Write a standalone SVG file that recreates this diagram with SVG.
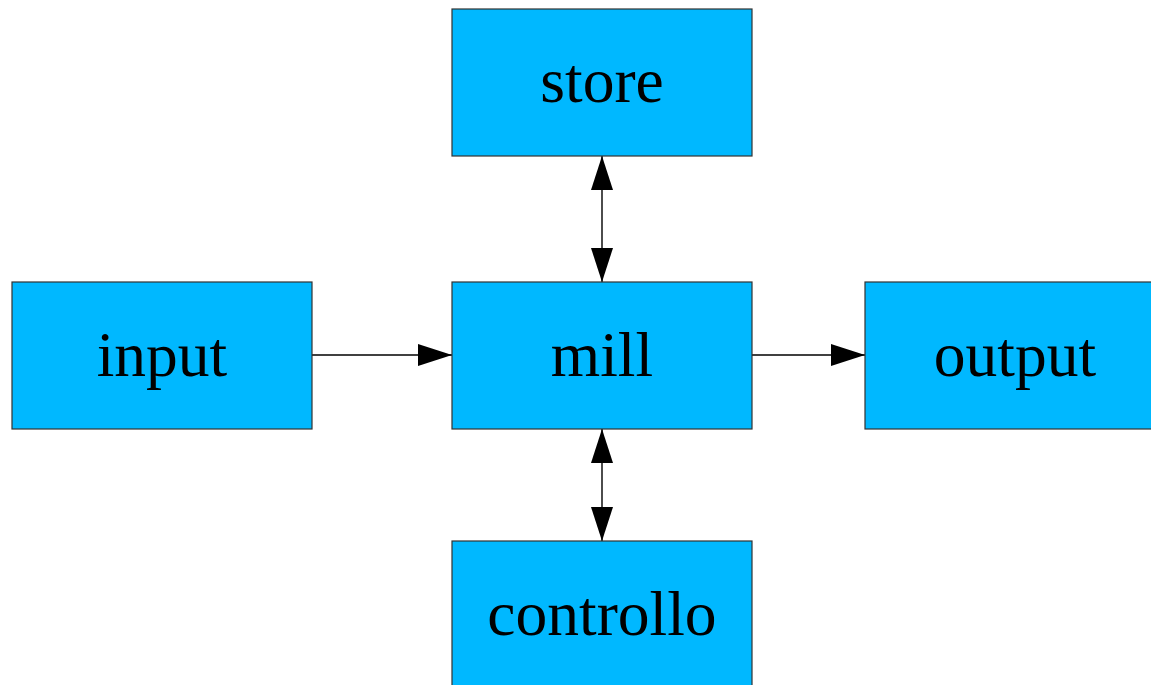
<svg xmlns="http://www.w3.org/2000/svg" width="1151" height="685" viewBox="0 0 1151 685">
  <style>
    .box { fill: #00b8ff; stroke: #333; stroke-width: 1.2; }
    .label { font-family: "Liberation Serif", "Times New Roman", serif; font-size: 63.5px; fill: #000; text-anchor: middle; }
    .link { stroke: #000; stroke-width: 1.4; fill: none; }
  </style>
  <defs>
    <marker id="head" viewBox="0 0 34 22" refX="34" refY="11" markerWidth="34" markerHeight="22" markerUnits="userSpaceOnUse" orient="auto-start-reverse">
      <path d="M0,0 L34,11 L0,22 Z" fill="#000"/>
    </marker>
  </defs>
  <rect width="1151" height="685" fill="#fff"/>

  <g id="connectors">
    <line class="link" x1="312" y1="355" x2="452" y2="355" marker-end="url(#head)"/>
    <line class="link" x1="752" y1="355" x2="865" y2="355" marker-end="url(#head)"/>
    <line class="link" x1="602" y1="156" x2="602" y2="282" marker-start="url(#head)" marker-end="url(#head)"/>
    <line class="link" x1="602" y1="429" x2="602" y2="541" marker-start="url(#head)" marker-end="url(#head)"/>
  </g>

  <g id="store">
    <rect class="box" x="452" y="9" width="300" height="147"/>
    <text class="label" x="602" y="102">store</text>
  </g>
  <g id="input">
    <rect class="box" x="12" y="282" width="300" height="147"/>
    <text class="label" x="162" y="376">input</text>
  </g>
  <g id="mill">
    <rect class="box" x="452" y="282" width="300" height="147"/>
    <text class="label" x="602" y="376">mill</text>
  </g>
  <g id="output">
    <rect class="box" x="865" y="282" width="300" height="147"/>
    <text class="label" x="1015" y="376">output</text>
  </g>
  <g id="controllo">
    <rect class="box" x="452" y="541" width="300" height="160"/>
    <text class="label" x="602" y="635">controllo</text>
  </g>
</svg>
